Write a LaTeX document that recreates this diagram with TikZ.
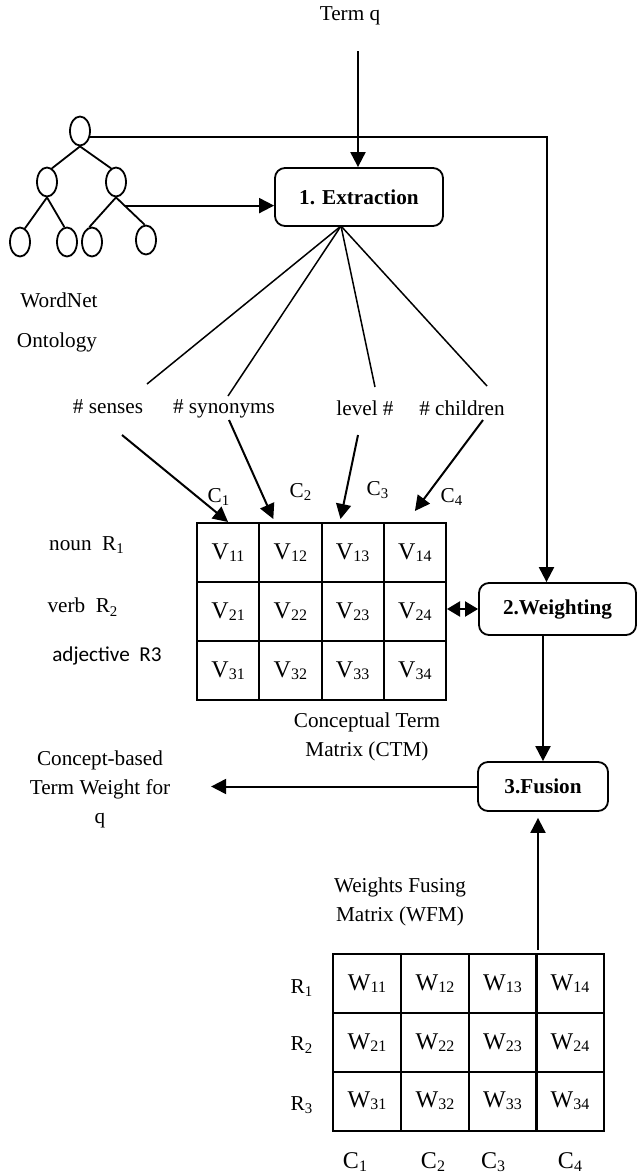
\documentclass[tikz,border=0pt]{standalone}
\usepackage{fontspec}
\setmainfont{Liberation Serif}
\newfontfamily\calfont{Carlito}
\usetikzlibrary{arrows.meta,calc,shapes.geometric}

% subscript used inside the matrix cells
\newcommand\cellsub[1]{\raisebox{-1.2pt}{\fontsize{8}{8}\selectfont#1}}

\begin{document}
\begin{tikzpicture}[x=0.5pt,y=-0.5pt,
  every node/.style={font=\fontsize{10.6}{14.5}\selectfont},
  arr/.style={line width=1pt,-{Triangle[length=7.5pt,width=7.5pt]}},
  fanline/.style={line width=0.75pt},
  stage/.style={draw,line width=0.9pt,rounded corners=5pt,inner sep=0pt,
    font=\fontsize{10.6}{14.5}\selectfont\bfseries},
  treenode/.style={draw,ellipse,line width=0.9pt,minimum width=10pt,minimum height=14.5pt,inner sep=0pt},
  treeedge/.style={line width=0.9pt},
  cellfont/.style={font=\fontsize{12}{14}\selectfont},
  vcell/.style={draw,line width=1pt,minimum width=31.1pt,minimum height=29.5pt,inner sep=0pt,cellfont},
  wcell/.style={draw,line width=1pt,minimum width=34pt,minimum height=29.5pt,inner sep=0pt,cellfont},
]
\useasboundingbox (0,0) rectangle (638,1174);

% WordNet tree
\node[treenode] (root) at (80,131) {};
\node[treenode] (l1) at (47,182) {};
\node[treenode] (r1) at (116,182) {};
\node[treenode] (leafa) at (20,242) {};
\node[treenode] (leafb) at (67,242) {};
\node[treenode] (leafc) at (92,242) {};
\node[treenode] (leafd) at (146,240) {};
\draw[treeedge] (root.south) -- (l1.70);
\draw[treeedge] (root.south) -- (r1.110);
\draw[treeedge] (l1.south) -- (leafa.70);
\draw[treeedge] (l1.south) -- (leafb.100);
\draw[treeedge] (r1.south) -- (leafc.100);
\draw[treeedge] (r1.south) -- (leafd.95);
\node (wn) at (59,300) {WordNet};
\node (onto) at (57,342) {Ontology};

% process stages
\node[stage,minimum width=84pt,minimum height=29pt] (ext) at (359,197) {1. Extraction};
\node[stage,minimum width=78.5pt,minimum height=26pt] (weight) at (557.5,609) {2.Weighting};
\node[stage,minimum width=65pt,minimum height=24.5pt] (fusion) at (543,786.5) {3.Fusion};

% term input
\node (termq) at (350,16) {Term q};
\coordinate (qstart) at (358,51);
\draw[arr] (qstart) -- (qstart |- ext.north);

% tree into extraction and weighting
\coordinate (ttap) at ($(r1.south)!0.3!(leafd.95)$);
\draw[arr] (ttap) -- (ttap -| ext.west);
\draw[arr] (root.-30) -| ($(weight.north)+(-11,0)$);

% extracted features
\coordinate (fan) at (341,226);
\node (senses) at (108,407) {\# senses};
\node (synonyms) at (224,409) {\# synonyms};
\node (level) at (365,408) {level \#};
\node (children) at (462,408) {\# children};
\coordinate (fa) at (147,384);
\coordinate (fb) at (228,396);
\coordinate (fc) at (375,387);
\coordinate (fd) at (487,386);
\draw[fanline] (fan) -- (fa);
\draw[fanline] (fan) -- (fb);
\draw[fanline] (fan) -- (fc);
\draw[fanline] (fan) -- (fd);

% conceptual term matrix
\foreach \r/\y in {1/552.5,2/611.5,3/670.5}{
  \foreach \c/\x in {1/228.1,2/290.4,3/352.6,4/414.9}{
    \node[vcell] (v\r\c) at (\x,\y) {V\cellsub{\r\c}};
  }
}
\node (ca) at (219,497) {C\textsubscript{1}};
\node (cb) at (301,492) {C\textsubscript{2}};
\node (cc) at (378,490) {C\textsubscript{3}};
\node (cd) at (452,497) {C\textsubscript{4}};
\node (noun) at (87,545) {noun\ \ R\textsubscript{1}};
\node (verb) at (83,607) {verb\ \ R\textsubscript{2}};
\node[font=\fontsize{10.6}{14.5}\calfont] (adj) at (107,656) {adjective\ \ R3};
\node[align=center] (ctm) at (367,737) {Conceptual Term\\Matrix (CTM)};

\coordinate (sa) at (122,435);
\coordinate (sb) at (229,420);
\coordinate (sc) at (358,435);
\coordinate (sd) at (483,420);
\draw[arr] (sa) -- (v11.north);
\draw[arr] (sb) -- ($(v12.north west)+(15,-3)$);
\draw[arr] (sc) -- ($(v13.north west)+(20,-3)$);
\draw[arr] (sd) -- ($(v14.north)+(0,-11)$);

\draw[line width=1pt,{Triangle[length=6.5pt,width=7.5pt]}-{Triangle[length=6.5pt,width=7.5pt]}]
  (v24.east |- weight.west) -- (weight.west);

% weighting to fusion, fusion output
\draw[arr] (fusion.north |- weight.south) -- (fusion.north);
\draw[arr] (fusion.west) -- ++(-266,0);
\node[align=center] (cbw) at (100,789) {Concept-based\\Term Weight for\\q};

% weights fusing matrix
\foreach \r/\y in {1/983.5,2/1042.5,3/1101}{
  \foreach \c/\x in {1/367,2/435,3/502.5,4/570}{
    \node[wcell] (w\r\c) at (\x,\y) {W\cellsub{\r\c}};
  }
}
\node[align=center] (wfm) at (400,902) {Weights Fusing\\Matrix (WFM)};
\node (wra) at (302,988) {R\textsubscript{1}};
\node (wrb) at (302,1045) {R\textsubscript{2}};
\node (wrc) at (302,1105) {R\textsubscript{3}};
\node[cellfont] (wca) at (355,1162) {C\cellsub{1}};
\node[cellfont] (wcb) at (433,1162) {C\cellsub{2}};
\node[cellfont] (wcc) at (493,1162) {C\cellsub{3}};
\node[cellfont] (wcd) at (570,1162) {C\cellsub{4}};

\coordinate (wup) at (538,950);
\draw[arr,shorten >=3pt] (wup) -- (wup |- fusion.south);
\end{tikzpicture}
\end{document}
